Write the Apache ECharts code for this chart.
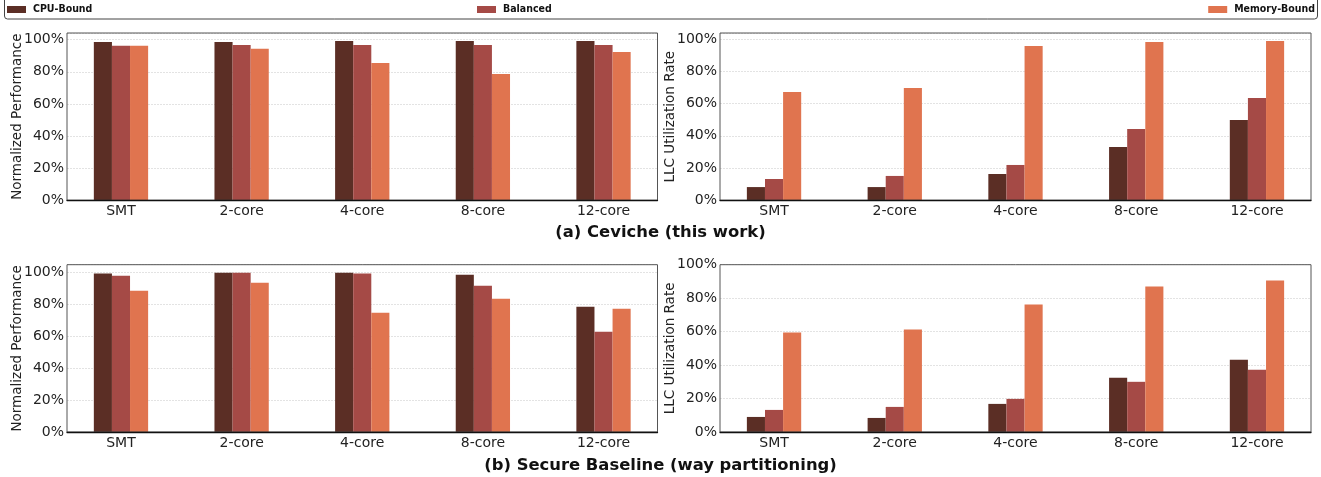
<!DOCTYPE html>
<html>
<head>
<meta charset="utf-8">
<script src="https://cdn.jsdelivr.net/npm/echarts@6/dist/echarts.min.js"></script>
<style>
html,body{margin:0;padding:0;background:#fff;}
#chart{width:1321px;height:477px;}
</style>
</head>
<body>
<div id="chart"></div>
<script>
// ---- data ----
var categories = ['SMT', '2-core', '4-core', '8-core', '12-core'];
var seriesNames = ['CPU-Bound', 'Balanced', 'Memory-Bound'];
var colors = ['#5b2e25', '#a54a46', '#e0744f'];
var yTicks = [0, 20, 40, 60, 80, 100];

// (a) Ceviche — normalized performance (%)
var cevichePerfCPU = [98.6, 98.6, 99.2, 99.2, 99.2];
var cevichePerfBal = [96.3, 96.7, 96.7, 96.7, 96.7];
var cevichePerfMem = [96.3, 94.4, 85.5, 78.6, 92.3];
// (a) Ceviche — LLC utilization (%)
var cevicheLLCCPU = [8.2, 8.2, 16.3, 33.0, 49.8];
var cevicheLLCBal = [13.2, 15.1, 21.9, 44.2, 63.4];
var cevicheLLCMem = [67.1, 69.6, 95.7, 98.1, 98.8];
// (b) Secure Baseline — normalized performance (%)
var basePerfCPU = [99.4, 100.0, 100.0, 98.7, 78.6];
var basePerfBal = [98.1, 100.0, 99.4, 91.8, 62.9];
var basePerfMem = [88.7, 93.7, 74.8, 83.6, 77.4];
// (b) Secure Baseline — LLC utilization (%)
var baseLLCCPU = [9.0, 8.4, 16.8, 32.4, 43.2];
var baseLLCBal = [13.2, 15.0, 19.8, 30.0, 37.2];
var baseLLCMem = [59.4, 61.2, 76.2, 87.0, 90.6];

var panels = [
  {data: [cevichePerfCPU, cevichePerfBal, cevichePerfMem], name: 'Normalized Performance', ymax: 104.2},
  {data: [cevicheLLCCPU, cevicheLLCBal, cevicheLLCMem], name: 'LLC Utilization Rate', ymax: 103.7},
  {data: [basePerfCPU, basePerfBal, basePerfMem], name: 'Normalized Performance', ymax: 105},
  {data: [baseLLCCPU, baseLLCBal, baseLLCMem], name: 'LLC Utilization Rate', ymax: 100}
];

var W = 1321, H = 477;
var FONT = 'DejaVu Sans';
var grids = [
  {left: 67, right: 663.5, top: 33, bottom: 276.7},
  {left: 720, right: 10, top: 33, bottom: 276.7},
  {left: 67, right: 663.5, top: 264.7, bottom: 45},
  {left: 720, right: 10, top: 264.7, bottom: 45}
];

var barOffset = 0.15;
var xMin = -0.4475, xMax = 4.4475;

var xAxes = [], yAxes = [], series = [], frames = [];
grids.forEach(function (g) {
  frames.push({
    type: 'rect', silent: true, z: 50,
    shape: {x: g.left, y: g.top, width: W - g.left - g.right, height: H - g.top - g.bottom},
    style: {fill: 'none', stroke: '#555', lineWidth: 1}
  });
});
panels.forEach(function (p, gi) {
  xAxes.push({
    type: 'value', gridIndex: gi, min: xMin, max: xMax,
    splitLine: {show: false},
    axisLine: {show: true, onZero: false, lineStyle: {color: '#111', width: 1.3}},
    axisTick: {show: false},
    axisLabel: {
      customValues: categories.map(function (c, i) { return i; }),
      formatter: function (v) { return categories[Math.round(v)]; },
      fontFamily: FONT, fontSize: 14, color: '#222', margin: 4
    },
    z: 60
  });
  yAxes.push({
    type: 'value', gridIndex: gi, min: 0, max: p.ymax,
    name: p.name, nameLocation: 'middle', nameGap: 43, nameMoveOverlap: false,
    nameTextStyle: {fontFamily: FONT, fontSize: 13.5, color: '#222'},
    axisLine: {show: false, onZero: false},
    axisTick: {show: false},
    axisLabel: {
      customValues: yTicks,
      formatter: function (v) { return v + '%'; },
      fontFamily: FONT, fontSize: 14, color: '#222', margin: 3
    },
    splitLine: {show: true, lineStyle: {color: '#dcdcdc', type: [2, 1], width: 0.8}}
  });
  p.data.forEach(function (arr, si) {
    series.push({
      type: 'bar', name: seriesNames[si], xAxisIndex: gi, yAxisIndex: gi,
      barWidth: 18.1, barGap: '-100%',
      itemStyle: {color: colors[si]},
      data: arr.map(function (v, i) { return [i + (si - 1) * barOffset, v]; }),
      animation: false
    });
  });
});

function legendItem(idx, pos) {
  var l = {
    data: [seriesNames[idx]], top: -1, icon: 'rect', itemWidth: 19, itemHeight: 7,
    textStyle: {fontFamily: "'DejaVu Sans Condensed', 'DejaVu Sans'", fontWeight: 'bold', fontSize: 10.5, color: '#111', padding: [0, 0, 0, 2]},
    selectedMode: false
  };
  for (var k in pos) l[k] = pos[k];
  return l;
}

var option = {
  animation: false,
  color: colors,
  grid: grids,
  xAxis: xAxes,
  yAxis: yAxes,
  series: series,
  legend: [legendItem(0, {left: 2}), legendItem(1, {left: 472}), legendItem(2, {right: 1})],
  title: [
    {text: '(a) Ceviche (this work)', left: 'center', top: 220,
      textStyle: {fontFamily: FONT, fontWeight: 'bold', fontSize: 16.4, color: '#111'}},
    {text: '(b) Secure Baseline (way partitioning)', left: 'center', top: 453,
      textStyle: {fontFamily: FONT, fontWeight: 'bold', fontSize: 16.4, color: '#111'}}
  ],
  graphic: [
    {type: 'rect', shape: {x: 4.5, y: -5, width: 1313, height: 24, r: 3},
      style: {fill: 'none', stroke: '#444', lineWidth: 1}, silent: true, z: 100}
  ].concat(frames)
};

var chart = echarts.init(document.getElementById('chart'), null, {renderer: 'canvas'});
chart.setOption(option);
</script>
</body>
</html>
